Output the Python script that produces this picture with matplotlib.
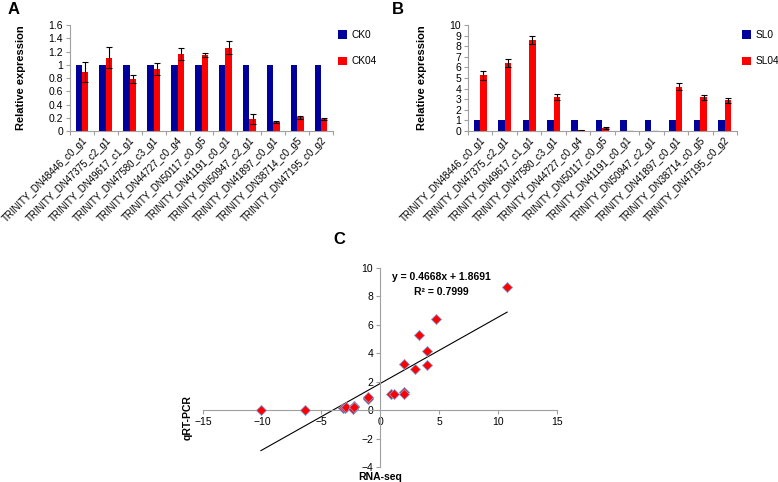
import numpy as np
import matplotlib
matplotlib.use("Agg")
from matplotlib import pyplot as plt

plt.rcParams['font.family'] = ['Liberation Sans', 'DejaVu Sans']

genes = ["TRINITY_DN48446_c0_g1", "TRINITY_DN47375_c2_g1", "TRINITY_DN49617_c1_g1",
         "TRINITY_DN47580_c3_g1", "TRINITY_DN44727_c0_g4", "TRINITY_DN50117_c0_g5",
         "TRINITY_DN41191_c0_g1", "TRINITY_DN50947_c2_g1", "TRINITY_DN41897_c0_g1",
         "TRINITY_DN38714_c0_g5", "TRINITY_DN47195_c0_g2"]

ck0 = [1, 1, 1, 1, 1, 1, 1, 1, 1, 1, 1]
ck04 = [0.89, 1.11, 0.79, 0.94, 1.16, 1.15, 1.26, 0.18, 0.13, 0.21, 0.19]
ck04_err = [0.15, 0.16, 0.06, 0.09, 0.09, 0.03, 0.10, 0.08, 0.015, 0.025, 0.015]

sl0 = [1, 1, 1, 1, 1, 1, 1, 1, 1, 1, 1]
sl04 = [5.25, 6.4, 8.6, 3.2, 0.1, 0.3, 0.02, 0.0, 4.2, 3.2, 2.9]
sl04_err = [0.4, 0.4, 0.35, 0.3, 0.05, 0.1, 0.02, 0.0, 0.3, 0.25, 0.25]

rnaseq = [-10.1, -6.37, -3.14, -3.0, -2.86, -2.29, -2.2, -2.25, -1.0, -1.0, -1.05,
          0.94, 1.2, 2.0, 2.06, 2.0, 2.94, 4.0, 4.0, 3.29, 4.77, 10.77]
qrtpcr = [0.02, 0.0, 0.13, 0.18, 0.19, 0.1, 0.31, 0.21, 0.89, 0.79, 0.94,
          1.16, 1.11, 1.26, 1.15, 3.25, 2.92, 4.19, 3.2, 5.29, 6.42, 8.64]
slope, icpt = 0.4668, 1.8691

BLUE = "#00009C"
RED = "#FF0000"
GRAY = "#A0A0A0"

fig = plt.figure(figsize=(7.78, 4.82), dpi=100)


def bar_panel(rect, a, b, berr, names, yticks, labels):
    ax = fig.add_axes(rect)
    x = np.arange(len(a))
    w = 0.27
    ax.bar(x - w / 2, a, w, color=BLUE, label=names[0])
    ax.bar(x + w / 2, b, w, color=RED, label=names[1],
           yerr=berr, error_kw=dict(ecolor="black", elinewidth=0.8, capsize=2.5, capthick=0.8))
    ax.set_xlim(-0.5, len(a) - 0.5)
    ax.set_ylim(yticks[0], yticks[-1])
    ax.set_yticks(yticks)
    ax.set_yticklabels(labels, fontsize=7.5)
    ax.set_xticks(np.arange(len(a) + 1) - 0.5, minor=False)
    ax.set_xticklabels([])
    ax.set_xticks(x, minor=True)
    ax.set_xticklabels(genes, minor=True, rotation=45, ha="right", rotation_mode="anchor", fontsize=7.0)
    ax.tick_params(axis="x", which="minor", length=0, pad=3)
    ax.tick_params(axis="x", which="major", length=3, color=GRAY)
    ax.tick_params(axis="y", length=3, color=GRAY, pad=2)
    for s in ["top", "right"]:
        ax.spines[s].set_visible(False)
    for s in ["left", "bottom"]:
        ax.spines[s].set_color(GRAY)
        ax.spines[s].set_linewidth(0.8)
    ax.set_ylabel("Relative expression", fontsize=8, fontweight="bold", labelpad=16)
    ax.legend(loc="upper left", bbox_to_anchor=(1.0, 1.0), frameon=False, fontsize=7.3,
              handlelength=0.9, handleheight=0.9, handletextpad=0.4,
              labelspacing=1.6, borderaxespad=0.3, borderpad=0.2)
    return ax


bar_panel([0.09, 0.728, 0.338, 0.22], ck0, ck04, ck04_err, ["CK0", "CK04"],
          [0, 0.2, 0.4, 0.6, 0.8, 1.0, 1.2, 1.4, 1.6],
          ["0", "0.2", "0.4", "0.6", "0.8", "1", "1.2", "1.4", "1.6"])
bar_panel([0.6015, 0.728, 0.3458, 0.22], sl0, sl04, sl04_err, ["SL0", "SL04"],
          list(range(0, 11)), [str(v) for v in range(0, 11)])

# scatter panel
axc = fig.add_axes([0.261, 0.031, 0.455, 0.413])
axc.scatter(rnaseq, qrtpcr, marker="D", s=26, color=RED, edgecolors="#7A9FD6", linewidths=0.6, zorder=3)
xl = np.array([min(rnaseq), max(rnaseq)])
axc.plot(xl, slope * xl + icpt, color="black", lw=0.8)
axc.set_xlim(-15, 15)
axc.set_ylim(-4, 10)
axc.set_xticks([-15, -10, -5, 0, 5, 10, 15])
axc.set_yticks([-4, -2, 0, 2, 4, 6, 8, 10])
for s in ["top", "right"]:
    axc.spines[s].set_visible(False)
for s in ["left", "bottom"]:
    axc.spines[s].set_position(("data", 0))
    axc.spines[s].set_color(GRAY)
    axc.spines[s].set_linewidth(0.8)
axc.tick_params(labelsize=7.5, length=3, color=GRAY, pad=2)
axc.text(5.2, 9.37, "y = 0.4668x + 1.8691", fontsize=7.5, fontweight="bold", ha="center", va="center")
axc.text(5.2, 8.3, "R\u00b2 = 0.7999", fontsize=7.5, fontweight="bold", ha="center", va="center")
fig.text(188 / 778, 1 - 418 / 482, "qRT-PCR", rotation=90, fontsize=7.5, fontweight="bold",
         ha="center", va="center")
fig.text(380 / 778, 1 - 477 / 482, "RNA-seq", fontsize=7.5, fontweight="bold", ha="center", va="center")

fig.text(8 / 778, 1 - 10 / 482, "A", fontsize=12, fontweight="bold", va="center")
fig.text(392 / 778, 1 - 10 / 482, "B", fontsize=12, fontweight="bold", va="center")
fig.text(333 / 778, 1 - 240 / 482, "C", fontsize=12, fontweight="bold", va="center")

fig.savefig("out.png", dpi=100)
